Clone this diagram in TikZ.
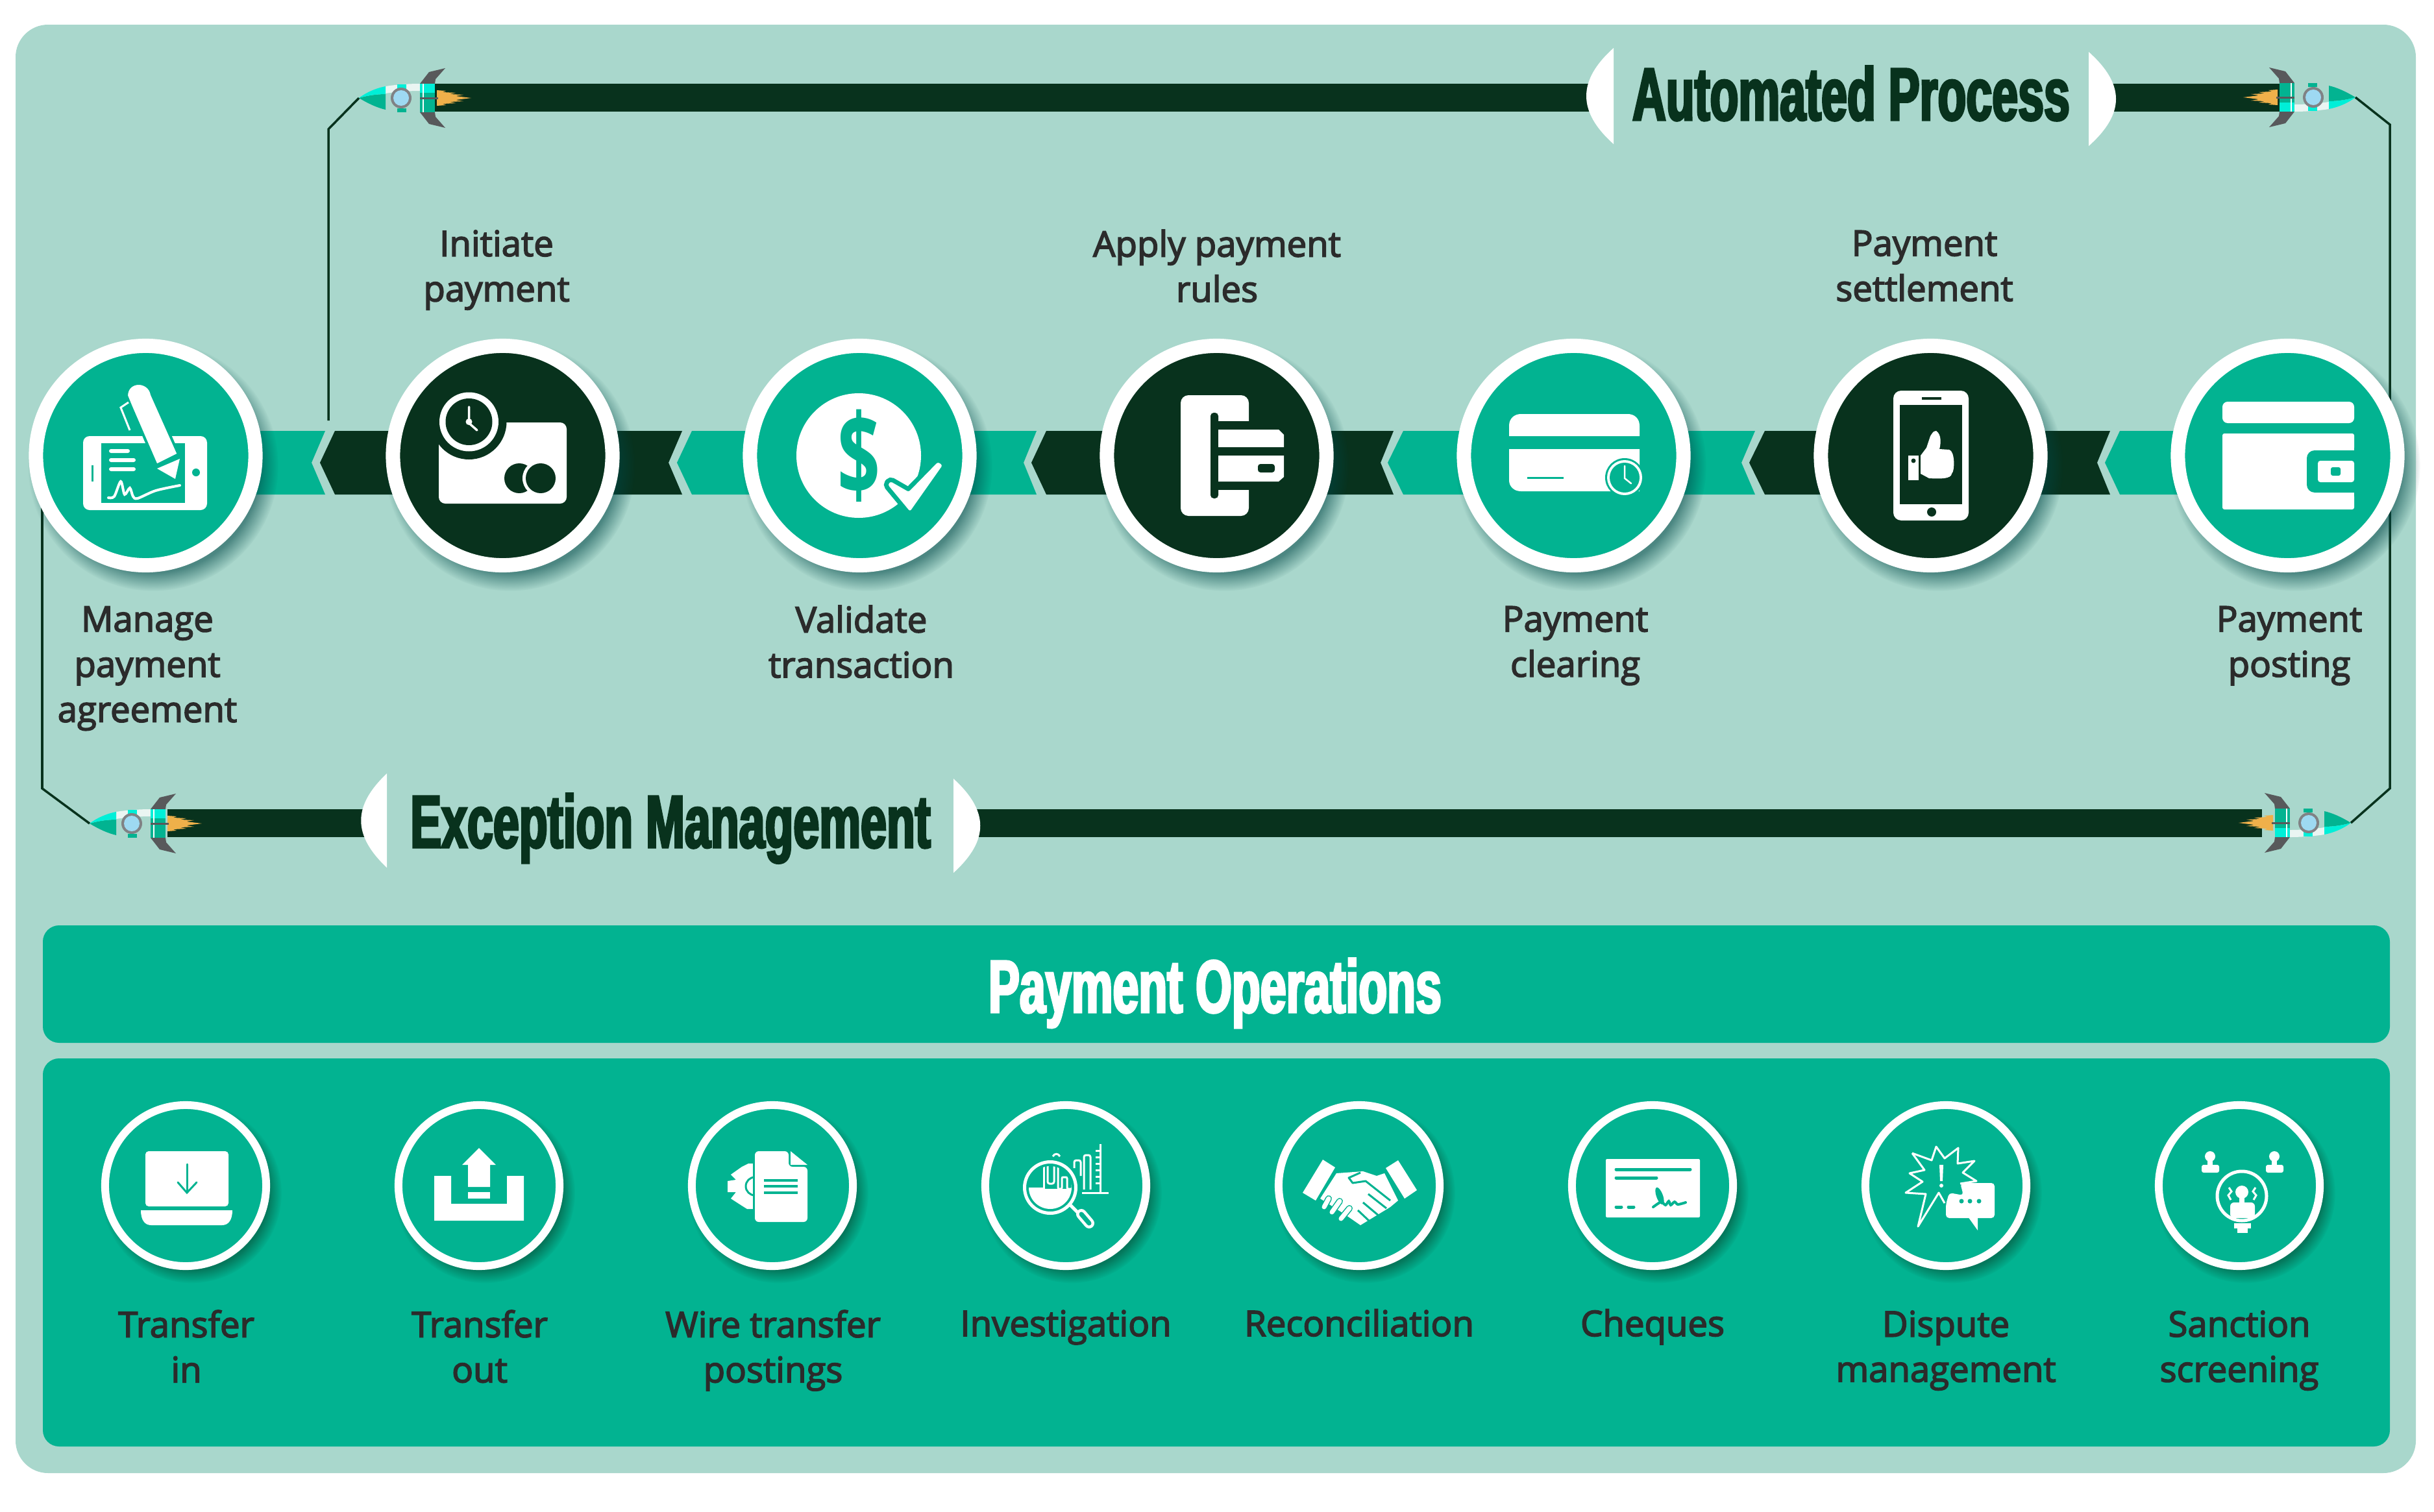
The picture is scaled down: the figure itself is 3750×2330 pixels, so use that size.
\documentclass[tikz,border=0pt]{standalone}
\usepackage{fontspec}
\usetikzlibrary{shadows,fadings}
\newfontfamily\labelfont[FakeBold=3]{Open Sans}
\newfontfamily\signfont{Open Sans}
\newfontfamily\headfont[FakeStretch=0.626,FakeBold=3]{Liberation Sans}
\definecolor{panelbg}{HTML}{A9D7CC}
\definecolor{leaf}{HTML}{02B391}
\definecolor{pine}{HTML}{08321D}
\definecolor{inktext}{HTML}{2B2B2B}
\definecolor{aqua}{HTML}{00EFD8}
\definecolor{finegrey}{HTML}{58595B}
\definecolor{portgrey}{HTML}{808285}
\definecolor{portblue}{HTML}{9ED9F2}
\definecolor{flame}{HTML}{EFB04A}
\tikzset{
  stepdisc/.style={circle,inner sep=0pt,minimum size=3.38cm,line width=0.22cm,draw=white,
    circular drop shadow={shadow scale=1.14,shadow xshift=0.1cm,shadow yshift=-0.14cm,
      fill=black!45!teal,opacity=0.55}},
  sidedisc/.style={stepdisc,fill=leaf},
  darkdisc/.style={stepdisc,fill=pine},
  opdisc/.style={circle,inner sep=0pt,minimum size=2.48cm,line width=0.12cm,draw=white,fill=leaf,
    circular drop shadow={shadow scale=1.12,shadow xshift=0.08cm,shadow yshift=-0.1cm,
      fill=pine,opacity=0.45}},
  steplabel/.style={font=\labelfont\fontsize{15.5}{19.8}\selectfont,text=inktext,align=center,inner sep=0pt,
    yshift=-0.1cm,execute at begin node=\strut,execute at end node=\strut},
  headlabel/.style={font=\headfont\bfseries\fontsize{32.6}{34}\selectfont,anchor=base,inner sep=0pt},
  wire/.style={draw=pine,line width=0.035cm},
  whiteline/.style={draw=white,line width=0.03cm},
  leafline/.style={draw=leaf,line width=0.03cm},
  pics/rocket/.style={code={
    \coordinate (-tip) at (0,0);
    \fill[panelbg] (41,-19) -- (94,-22) -- (94,22) -- (41,19) -- cycle;
    \fill[white!75!panelbg] (41,-18) .. controls (60,-21) and (80,-22) .. (94,-22) -- (94,-11) .. controls (80,-11) and (60,-10) .. (41,-7) -- cycle;
    \fill[leaf] (0,0) .. controls (15,9) and (28,15) .. (41,18) -- (41,-6) .. controls (25,-6) and (10,-3) .. (0,0) -- cycle;
    \fill[aqua] (0,0) .. controls (12,-9) and (26,-15) .. (41,-18) -- (41,-6) .. controls (25,-6) and (10,-3) .. (0,0) -- cycle;
    \fill[aqua] (59,-21) rectangle (73,-10);
    \fill[leaf] (59,16) rectangle (73,22);
    \fill[finegrey] (94,-22) -- (108,-40) -- (133,-46) -- (118,-29) -- (117,-22) -- cycle;
    \fill[finegrey] (94,22) -- (108,40) -- (133,46) -- (118,29) -- (117,22) -- cycle;
    \fill[leaf] (94,-8) rectangle (117,22);
    \fill[aqua] (94,-22) rectangle (117,-8);
    \fill[white] (98,-22) rectangle (100,22);
    \fill[portgrey] (65,0) circle (16);
    \fill[portblue] (65,0) circle (12);
    \fill[flame] (120,-12) -- (134,-11) -- (129,-9) -- (149,-8) -- (140,-6) -- (161,-5) -- (149,-3) -- (173,0) -- (149,3) -- (161,5) -- (140,6) -- (149,8) -- (129,9) -- (134,11) -- (120,12) -- cycle;
    \draw[finegrey,line width=0.03cm] (94,0) -- (122,0);
  }}
}
\begin{document}
\begin{tikzpicture}[x=0.01cm,y=-0.01cm]
  \useasboundingbox (0,0) rectangle (3750,2330);
  \fill[white] (0,0) rectangle (3750,2330);
  \fill[panelbg,rounded corners=0.5cm] (24,38) rectangle (3722,2270);

  \fill[leaf] (224,664) -- (501,664) -- (480,713) -- (501,762) -- (224,762) -- cycle;
  \fill[pine] (516,664) -- (1051,664) -- (1030,713) -- (1051,762) -- (516,762) -- (493,713) -- cycle;
  \fill[leaf] (1066,664) -- (1597,664) -- (1577,713) -- (1597,762) -- (1066,762) -- (1043,713) -- cycle;
  \fill[pine] (1612,664) -- (2147,664) -- (2127,713) -- (2147,762) -- (1612,762) -- (1589,713) -- cycle;
  \fill[leaf] (2162,664) -- (2704,664) -- (2683,713) -- (2704,762) -- (2162,762) -- (2138,713) -- cycle;
  \fill[pine] (2719,664) -- (3251,664) -- (3231,713) -- (3251,762) -- (2719,762) -- (2695,713) -- cycle;
  \fill[leaf] (3266,664) -- (3524,664) -- (3524,762) -- (3266,762) -- (3243,713) -- cycle;

  \fill[pine] (670,129) rectangle (2460,172);
  \fill[pine] (3240,129) rectangle (3515,172);
  \fill[pine] (258,1247) rectangle (570,1290);
  \fill[pine] (1500,1247) rectangle (3485,1290);
  \fill[white] (2486,74) .. controls (2430,124) and (2430,172) .. (2486,222) -- cycle;
  \fill[white] (3218,80) .. controls (3274,130) and (3274,175) .. (3218,225) -- cycle;
  \fill[white] (596,1192) .. controls (543,1242) and (543,1287) .. (596,1337) -- cycle;
  \fill[white] (1469,1200) .. controls (1524,1250) and (1524,1295) .. (1469,1345) -- cycle;

  \pic (rockettl) at (553,151) {rocket};
  \pic[rotate=180] (rockettr) at (3629,150) {rocket};
  \pic (rocketbl) at (138,1269) {rocket};
  \pic[rotate=180] (rocketbr) at (3622,1268) {rocket};

  \coordinate (elbowtl) at (506,199);
  \coordinate (endtl) at (506,648);
  \coordinate (elbowtr) at (3682,192);
  \coordinate (elbowbr) at (3682,1215);
  \coordinate (elbowbl) at (65,1215);
  \coordinate (startbl) at (65,702);
  \draw[wire] (rockettl-tip) -- (elbowtl) -- (endtl);
  \draw[wire] (rockettr-tip) -- (elbowtr) -- (elbowbr) -- (rocketbr-tip);
  \draw[wire] (startbl) -- (elbowbl) -- (rocketbl-tip);

  \node[sidedisc] (manage) at (224.5,702) {};
  \node[darkdisc] (initiate) at (774.5,702) {};
  \node[sidedisc] (validate) at (1324.5,702) {};
  \node[darkdisc] (rules) at (1874.5,702) {};
  \node[sidedisc] (clearing) at (2424.5,702) {};
  \node[darkdisc] (settlement) at (2974.5,702) {};
  \node[sidedisc] (posting) at (3524.5,702) {};

  \fill[white,rounded corners=0.1cm] (128,672) rectangle (319,786);
  \fill[leaf] (156,683) rectangle (285,775);
  \fill[leaf] (141,717) rectangle (144,742);
  \fill[leaf] (302,728) circle (6);
  \fill[white,rounded corners=0.03cm] (168,692) rectangle (200,698);
  \fill[white,rounded corners=0.03cm] (168,706) rectangle (209,712);
  \fill[white,rounded corners=0.03cm] (168,720) rectangle (209,726);
  \draw[white,line width=0.04cm,line cap=round] plot[smooth] coordinates {(167,767) (176,765) (186,742) (192,762) (200,752) (205,765) (212,768) (240,756) (277,748)};
  \draw[fill=white,draw=leaf,line width=0.04cm] (202,627) -- (241,717) -- (275,700) -- (234,608) .. controls (230,585) and (195,585) .. (195,610) -- cycle;
  \fill[white] (242,722) -- (277,707) -- (270,738) -- cycle;
  \draw[whiteline] (200,663) -- (186,628) -- (198,620);

  \fill[white,rounded corners=0.1cm] (676,651) rectangle (873,776);
  \fill[pine] (722.5,650) circle (58);
  \fill[white] (722.5,650) circle (45.5);
  \fill[pine] (722.5,650) circle (36);
  \draw[white,line width=0.035cm,line cap=round] (722.5,627) -- (722.5,652) -- (735,663);
  \fill[white] (722.5,650) circle (5);
  \fill[pine] (800,737) circle (23);
  \fill[white] (833,737) circle (28);
  \fill[pine] (833,737) circle (23);

  \fill[white] (1323,702) circle (96);
  \node[inner sep=0pt,text=leaf,font=\signfont\bfseries\fontsize{41}{41}\selectfont] (dollar) at (1323,702) {\scalebox{0.8}[1.21]{\$}};
  \draw[fill=white,draw=leaf,line width=0.14cm,rounded corners=0.03cm] (1372,742) -- (1400,758) -- (1445,712) -- (1452,717) -- (1402,788) -- (1368,747) -- cycle;
  \fill[white,rounded corners=0.03cm] (1372,742) -- (1400,758) -- (1445,712) -- (1452,717) -- (1402,788) -- (1368,747) -- cycle;

  \fill[white,rounded corners=0.12cm] (1819,609) rectangle (1924,795);
  \fill[pine] (1877,649) rectangle (1930,755);
  \fill[pine,rounded corners=0.05cm] (1865,636) rectangle (1877,768);
  \fill[white] (1877,662) -- (1970,662) -- (1978,670) -- (1978,689) -- (1877,689) -- cycle;
  \fill[white] (1877,702) -- (1978,702) -- (1978,735) -- (1970,742) -- (1877,742) -- cycle;
  \fill[pine,rounded corners=0.04cm] (1938,715) rectangle (1964,728);

  \fill[white] (2325,672) -- (2325,656) .. controls (2325,645) and (2333,638) .. (2343,638) -- (2508,638) .. controls (2518,638) and (2526,645) .. (2526,656) -- (2526,672) -- cycle;
  \fill[white] (2325,692) -- (2526,692) -- (2526,757) -- (2343,757) .. controls (2333,757) and (2325,750) .. (2325,740) -- cycle;
  \fill[leaf] (2353,735) rectangle (2409,738);
  \fill[leaf] (2503,736) circle (30);
  \fill[white] (2503,736) circle (27);
  \fill[leaf] (2503,736) circle (23);
  \draw[white,line width=0.025cm,line cap=round] (2503,718) -- (2503,737) -- (2513,745);

  \fill[white,rounded corners=0.12cm] (2917,602) rectangle (3033,802);
  \fill[pine] (2927,624) rectangle (3023,777);
  \fill[pine] (2961,612) rectangle (2991,616);
  \fill[pine] (2976,789) circle (7);
  \fill[white] (2940,702) rectangle (2956,740);
  \fill[pine] (2948,710) circle (3.5);
  \fill[white] (2959,702) -- (2968,690) -- (2974,672) .. controls (2979,664) and (2980,664) .. (2983,664) .. controls (2992,670) and (2990,685) .. (2988,692) -- (3003,693) .. controls (3012,695) and (3012,725) .. (3007,730) .. controls (3006,738) and (2990,738) .. (2972,737) -- (2959,730) -- cycle;

  \fill[white,rounded corners=0.08cm] (3424,619) rectangle (3627,652);
  \fill[white,rounded corners=0.03cm] (3424,668) rectangle (3627,785);
  \fill[leaf,rounded corners=0.12cm] (3554,694) rectangle (3660,759);
  \fill[leaf] (3627,690) rectangle (3660,765);
  \fill[white,rounded corners=0.04cm] (3571,710) rectangle (3627,743);
  \fill[leaf,rounded corners=0.03cm] (3591,720) rectangle (3606,733);

  \node[steplabel] (managetext) at (227,1024) {Manage\\payment\\agreement};
  \node[steplabel] (initiatetext) at (765,410) {Initiate\\payment};
  \node[steplabel] (validatetext) at (1327,989) {Validate\\transaction};
  \node[steplabel] (rulestext) at (1875,410) {Apply payment\\rules};
  \node[steplabel] (clearingtext) at (2427,989) {Payment\\clearing};
  \node[steplabel] (settlementtext) at (2965,410) {Payment\\settlement};
  \node[steplabel] (postingtext) at (3527,989) {Payment\\posting};

  \node[headlabel,text=pine] (automated) at (2852,185) {Automated Process};
  \node[headlabel,text=pine] (exception) at (1033,1306) {Exception Management};

  \fill[leaf,rounded corners=0.25cm] (66,1426) rectangle (3682,1607);
  \fill[leaf,rounded corners=0.25cm] (66,1631) rectangle (3682,2229);
  \node[headlabel,text=white] (operations) at (1872,1560) {Payment Operations};

  \node[opdisc] (transferin) at (286,1827) {};
  \node[opdisc] (transferout) at (738,1827) {};
  \node[opdisc] (wire) at (1190,1827) {};
  \node[opdisc] (investigation) at (1642,1827) {};
  \node[opdisc] (reconciliation) at (2094,1827) {};
  \node[opdisc] (cheques) at (2546,1827) {};
  \node[opdisc] (dispute) at (2998,1827) {};
  \node[opdisc] (sanction) at (3450,1827) {};

  \fill[white,rounded corners=0.05cm] (224,1774) rectangle (352,1859);
  \fill[white] (217,1865) -- (358,1865) .. controls (358,1880) and (352,1888) .. (342,1888) -- (233,1888) .. controls (223,1888) and (217,1880) .. (217,1865) -- cycle;
  \draw[leafline,line cap=round] (288,1794) -- (288,1836);
  \draw[leafline,line cap=round,line join=miter] (274,1822) -- (288,1838) -- (303,1822);

  \fill[white] (669,1812) -- (695,1812) -- (695,1855) -- (781,1855) -- (781,1812) -- (807,1812) -- (807,1881) -- (669,1881) -- cycle;
  \fill[white] (738,1769) -- (764,1795) -- (755,1795) -- (755,1829) -- (721,1829) -- (721,1795) -- (712,1795) -- cycle;
  \fill[white] (721,1837) rectangle (755,1847);

  \fill[white] (1153,1793) -- (1161,1793) -- (1161,1863) -- (1151,1863) -- (1143,1858) -- (1126,1847) -- (1134,1837) -- (1121,1837) -- (1121,1820) -- (1134,1818) -- (1126,1810) -- (1143,1798) -- cycle;
  \draw[leafline] (1163,1828) circle (14);
  \fill[leaf] (1160,1790) rectangle (1163,1866);
  \fill[white,rounded corners=0.06cm] (1163,1774) -- (1215,1774) -- (1215,1798) -- (1244,1798) -- (1244,1883) -- (1163,1883) -- cycle;
  \fill[white] (1218,1774) -- (1244,1795) -- (1218,1795) -- cycle;
  \fill[leaf] (1177,1817) rectangle (1229,1821);
  \fill[leaf] (1177,1826) rectangle (1229,1830);
  \fill[leaf] (1177,1836) rectangle (1229,1840);

  \draw[whiteline] (1695,1763) -- (1695,1838);
  \draw[whiteline] (1667,1838) -- (1708,1838);
  \draw[whiteline] (1688,1773) -- (1695,1773);
  \draw[whiteline] (1688,1783) -- (1695,1783);
  \draw[whiteline] (1688,1793) -- (1695,1793);
  \draw[whiteline] (1688,1803) -- (1695,1803);
  \draw[whiteline] (1688,1813) -- (1695,1813);
  \draw[whiteline] (1688,1823) -- (1695,1823);
  \draw[whiteline,rounded corners=0.03cm] (1670,1833) -- (1670,1780) -- (1680,1780) -- (1680,1833);
  \draw[whiteline,rounded corners=0.03cm] (1655,1800) -- (1655,1788) -- (1665,1788) -- (1665,1812);
  \draw[whiteline] (1622,1782) .. controls (1625,1777) and (1630,1777) .. (1633,1782);
  \fill[leaf] (1618,1830) circle (46);
  \begin{scope}
    \clip (1618,1830) circle (33);
    \fill[white] (1580,1832) rectangle (1660,1870);
    \draw[whiteline] (1585,1831) -- (1608,1831) -- (1608,1790);
    \draw[whiteline,rounded corners=0.03cm] (1614,1790) -- (1614,1824) -- (1624,1824) -- (1624,1790);
    \draw[whiteline,rounded corners=0.02cm] (1630,1790) -- (1630,1832) -- (1636,1832) -- (1636,1814) -- (1644,1814) -- (1644,1832) -- (1652,1832) -- (1652,1812);
  \end{scope}
  \draw[white,line width=0.05cm] (1618,1830) circle (39.5);
  \draw[white,line width=0.05cm] (1649,1857) -- (1660,1868);
  \draw[white,line width=0.16cm,line cap=round] (1666,1871) -- (1678,1885);
  \draw[leaf,line width=0.07cm,line cap=round] (1666,1871) -- (1678,1885);

  \fill[white] (2038,1787) -- (2057,1799) -- (2027,1850) -- (2007,1838) -- cycle;
  \fill[white] (2154,1788) -- (2183,1834) -- (2164,1847) -- (2135,1800) -- cycle;
  \fill[white] (2059,1808) -- (2100,1805) -- (2121,1812) -- (2133,1808) -- (2154,1850) -- (2142,1860) -- (2096,1888) -- (2070,1870) -- (2034,1847) -- cycle;
  \draw[leafline,line join=round] (2096,1807) -- (2078,1815) -- (2084,1823) -- (2104,1820) -- (2142,1850);
  \draw[leafline] (2108,1840) -- (2136,1862);
  \draw[leafline] (2100,1853) -- (2125,1874);
  \draw[leafline] (2092,1865) -- (2110,1882);
  \draw[leaf,line width=0.1cm,line cap=round] (2047,1847) -- (2040,1860);
  \draw[white,line width=0.07cm,line cap=round] (2047,1847) -- (2040,1860);
  \draw[leaf,line width=0.1cm,line cap=round] (2064,1851) -- (2052,1868);
  \draw[white,line width=0.07cm,line cap=round] (2064,1851) -- (2052,1868);
  \draw[leaf,line width=0.1cm,line cap=round] (2079,1862) -- (2066,1878);
  \draw[white,line width=0.07cm,line cap=round] (2079,1862) -- (2066,1878);

  \fill[white,rounded corners=0.02cm] (2474,1786) rectangle (2619,1876);
  \draw[leaf,line width=0.05cm,line cap=round] (2490,1802) -- (2604,1802);
  \draw[leaf,line width=0.05cm,line cap=round] (2490,1815) -- (2552,1815);
  \draw[leaf,line width=0.05cm,line cap=round] (2490,1860) -- (2498,1860);
  \draw[leaf,line width=0.05cm,line cap=round] (2509,1860) -- (2517,1860);
  \fill[leaf,rotate around={20:(2557,1843)}] (2557,1843) ellipse (5 and 14);
  \draw[leaf,line width=0.04cm,line cap=round] plot[smooth] coordinates {(2547,1860) (2554,1855) (2560,1852) (2566,1857) (2571,1851) (2574,1857) (2580,1852) (2585,1856) (2597,1853)};

  \fill[white,rounded corners=0.05cm] (3020,1823) -- (3073,1823) -- (3073,1877) -- (3052,1877) -- (2998,1877) -- (2998,1856) -- (3003,1838) -- (3025,1842) -- cycle;
  \fill[white] (3032,1875) -- (3047,1875) -- (3047,1896) -- cycle;
  \fill[leaf] (3022,1851) circle (3.5);
  \fill[leaf] (3035,1851) circle (3.5);
  \fill[leaf] (3049,1851) circle (3.5);
  \draw[whiteline,line join=round] (2946,1777) -- (2976,1788) -- (2983,1767) -- (2996,1785) -- (3017,1769) -- (3016,1793) -- (3042,1789) -- (3024,1807) -- (3045,1820) -- (3020,1824);
  \draw[whiteline,line join=round] (2996,1854) -- (2987,1838) -- (2955,1890) -- (2967,1840) -- (2936,1838) -- (2962,1821) -- (2942,1808) -- (2965,1803) -- (2946,1777);
  \fill[white] (2988,1795) -- (2994,1795) -- (2993,1820) -- (2989,1820) -- cycle;
  \fill[white] (2991,1827) circle (3);

  \fill[white] (3405,1782) circle (8);
  \fill[white,rounded corners=0.03cm] (3392,1807) -- (3392,1795) -- (3419,1795) -- (3419,1807) -- cycle;
  \fill[white] (3401,1788) rectangle (3409,1797);
  \fill[white] (3504,1782) circle (8);
  \fill[white,rounded corners=0.03cm] (3491,1807) -- (3491,1795) -- (3518,1795) -- (3518,1807) -- cycle;
  \fill[white] (3500,1788) rectangle (3508,1797);
  \draw[white,line width=0.05cm] (3454,1843) circle (38);
  \fill[white] (3454,1837) circle (10);
  \fill[white] (3450,1845) rectangle (3458,1856);
  \fill[white,rounded corners=0.06cm] (3436,1853) rectangle (3474,1877);
  \draw[whiteline] (3434,1830) -- (3438,1836) -- (3433,1842) -- (3437,1849);
  \draw[whiteline] (3475,1830) -- (3471,1836) -- (3476,1842) -- (3472,1849);
  \fill[white] (3442,1885) rectangle (3468,1893);
  \fill[white] (3447,1893) rectangle (3463,1900);

  \node[steplabel] (transferintext) at (287,2075) {Transfer\\in};
  \node[steplabel] (transferouttext) at (739,2075) {Transfer\\out};
  \node[steplabel] (wiretext) at (1191,2075) {Wire transfer\\postings};
  \node[steplabel] (investigationtext) at (1642,2035) {Investigation};
  \node[steplabel] (reconciliationtext) at (2094,2035) {Reconciliation};
  \node[steplabel] (chequestext) at (2546,2035) {Cheques};
  \node[steplabel] (disputetext) at (2998,2075) {Dispute\\management};
  \node[steplabel] (sanctiontext) at (3450,2075) {Sanction\\screening};
\end{tikzpicture}
\end{document}
